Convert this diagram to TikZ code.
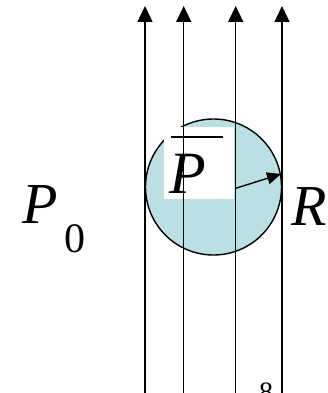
\documentclass[tikz,border=0pt]{standalone}
\usepackage{fontspec}
\setmainfont{Liberation Serif}
\usetikzlibrary{arrows.meta}
\definecolor{ballfill}{RGB}{186,224,228}
\begin{document}
\begin{tikzpicture}[x=1pt,y=-1pt,
  flow/.style={line width=1.4pt,-{Triangle[width=15pt,length=16pt]}},
  lbl/.style={inner sep=0pt,outer sep=0pt,font=\fontsize{58}{60}\selectfont\itshape}]
\useasboundingbox (0,0) rectangle (327,393);
% ball
\node[circle,draw,line width=1.4pt,fill=ballfill,minimum size=136pt,inner sep=0pt] (ball) at (213.5,187) {};
% white label box
\fill[white] (164,127) rectangle (234.3,199);
\draw[line width=1.8pt] (170.7,136.7) -- (223,136.7);
\node[lbl,anchor=base west,font=\fontsize{60}{62}\selectfont\itshape] (pbar) at (169,193) {P};
% flow lines
\foreach \i/\x in {1/145,2/183.7,3/235.7,4/282}{
  \coordinate (b\i) at (\x,393);
  \coordinate (t\i) at (\x,6);
  \draw[flow] (b\i) -- (t\i);
}
% radius arrow
\coordinate (rc) at (235.7,188.3);
\coordinate (rt) at (281,174);
\draw[line width=1.4pt,-{Triangle[width=12pt,length=14pt]}] (rc) -- (rt);
% labels
\node[lbl,anchor=base west] (p0) at (22,223) {P};
\node[inner sep=0pt,anchor=base west,font=\fontsize{42}{44}\selectfont] (zero) at (64,252) {0};
\node[lbl,anchor=base west] (R) at (291,225) {R};
\node[inner sep=0pt,anchor=base,font=\fontsize{28}{30}\selectfont] (eight) at (266,401) {8};
\end{tikzpicture}
\end{document}
